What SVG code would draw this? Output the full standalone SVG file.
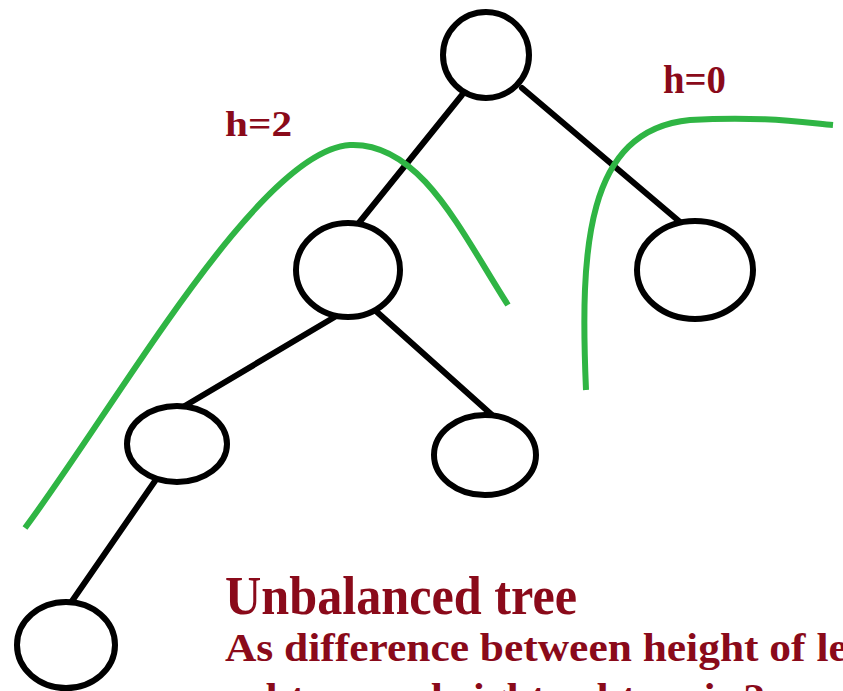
<svg xmlns="http://www.w3.org/2000/svg" width="843" height="691" viewBox="0 0 843 691">
<style>
.n{fill:#fff;stroke:#000;stroke-width:6}
.e{stroke:#000;stroke-width:6;stroke-linecap:round}
.g{fill:none;stroke:#2fb544;stroke-width:6;stroke-linecap:butt}
.t{font-family:"Liberation Serif",serif;font-weight:bold;fill:#8a0a1a}
</style>
<rect width="843" height="691" fill="#fff"/>
<g id="connectors">
<line class="e" x1="462" y1="95" x2="358" y2="224"/>
<line class="e" x1="522" y1="88" x2="680" y2="222"/>
<line class="e" x1="338" y1="315" x2="183" y2="407"/>
<line class="e" x1="377" y1="312" x2="492" y2="415"/>
<line class="e" x1="155" y1="481" x2="70" y2="604"/>
</g>
<g id="curves">
<path class="g" d="M25 528 C 120 400, 260 150, 350 145 C 420 142, 460 230, 508 305"/>
<path class="g" d="M586 390 C 580 250, 585 130, 690 120 C 760 116, 800 122, 833 125"/>
</g>
<g id="root"><ellipse class="n" cx="486" cy="55" rx="43" ry="43"/></g>
<g id="left"><ellipse class="n" cx="348" cy="270" rx="52" ry="47"/></g>
<g id="right"><ellipse class="n" cx="695" cy="270" rx="58" ry="49"/></g>
<g id="leftleft"><ellipse class="n" cx="177" cy="444" rx="50" ry="38"/></g>
<g id="leftright"><ellipse class="n" cx="485" cy="455" rx="51" ry="40"/></g>
<g id="leftleftleft"><ellipse class="n" cx="66" cy="645" rx="49" ry="43"/></g>
<g id="labels">
<text class="t" x="225" y="136" font-size="35" textLength="67" lengthAdjust="spacingAndGlyphs">h=2</text>
<text class="t" x="663" y="93" font-size="40" textLength="63" lengthAdjust="spacingAndGlyphs">h=0</text>
<text class="t" x="225" y="614" font-size="55" textLength="352" lengthAdjust="spacingAndGlyphs">Unbalanced tree</text>
<g transform="translate(225,0) scale(1.065,1) translate(-225,0)">
<text class="t" x="225" y="661" font-size="40.8">As difference between height of left</text>
<text class="t" x="225" y="711" font-size="40.8">subtree and right subtree is 2</text>
</g>
</g>
</svg>
